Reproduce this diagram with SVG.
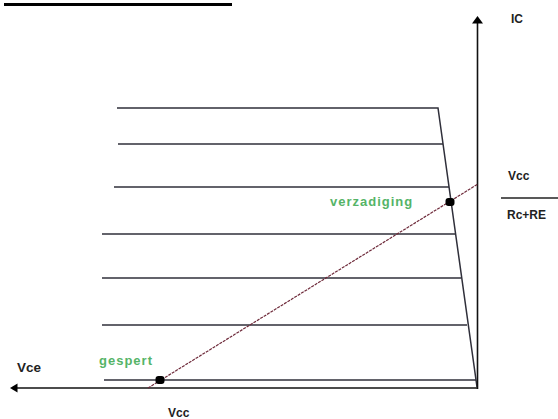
<svg xmlns="http://www.w3.org/2000/svg" width="558" height="419" viewBox="0 0 558 419">
<defs>
<style>
.ax{stroke:#111;stroke-width:1.6;fill:none}
.h{stroke:#2f2f3a;stroke-width:1.5;fill:none}
.load{stroke:#6e2a3a;stroke-width:1.2;fill:none;stroke-dasharray:3 1}
.lbl{font-family:"Liberation Sans",Arial,sans-serif;font-weight:bold;font-size:12px;fill:#222}
.g{font-family:"Liberation Sans",Arial,sans-serif;font-weight:bold;font-size:13px;fill:#55b467;letter-spacing:1px}
</style>
</defs>
<rect width="558" height="419" fill="#fff"/>
<rect x="4" y="3" width="228" height="3" fill="#000"/>
<g id="curves">
<polyline class="h" points="117,108 438,108 477,387"/>
<line class="h" x1="118" y1="144" x2="443" y2="144"/>
<line class="h" x1="114" y1="187" x2="449" y2="187"/>
<line class="h" x1="102" y1="234" x2="455" y2="234"/>
<line class="h" x1="102" y1="278" x2="461" y2="278"/>
<line class="h" x1="102" y1="325" x2="467" y2="325"/>
<line class="h" x1="104" y1="380" x2="476" y2="380"/>
</g>
<g id="axes">
<line class="ax" x1="477.5" y1="22" x2="477.5" y2="389"/>
<polygon points="477.5,16 472,23.5 483,23.5" fill="#000"/>
<line class="ax" x1="16" y1="388" x2="478" y2="388"/>
<polygon points="10,388 17.5,383.5 17.5,392.5" fill="#000"/>
</g>
<g id="loadline">
<line class="load" x1="148" y1="388" x2="478" y2="184"/>
</g>
<g id="points">
<rect x="155.5" y="376" width="9" height="8" rx="3" fill="#000"/>
<rect x="445.5" y="198" width="9" height="8" rx="3" fill="#000"/>
</g>
<g id="labels">
<text class="lbl" x="511" y="23" font-size="13">IC</text>
<text class="lbl" x="508" y="180">Vcc</text>
<line x1="501" y1="198" x2="558" y2="198" stroke="#222" stroke-width="1.3"/>
<text class="lbl" x="507" y="219">Rc+RE</text>
<text class="lbl" x="17" y="372" style="font-size:13.5px">Vce</text>
<text class="lbl" x="168" y="417">Vcc</text>
<text class="g" x="330" y="206">verzadiging</text>
<text class="g" x="99" y="365">gespert</text>
</g>
</svg>
